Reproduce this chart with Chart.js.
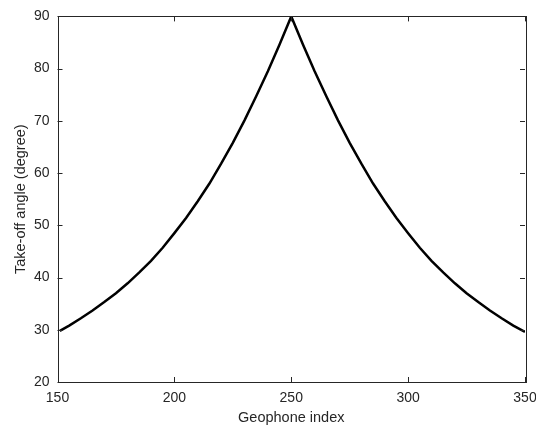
<!DOCTYPE html>
<html>
<head>
<meta charset="utf-8">
<script src="https://cdn.jsdelivr.net/npm/chart.js@4"></script>
<style>
  html, body { margin: 0; padding: 0; background: #fff; }
  #wrap { width: 536px; height: 433px; }
</style>
</head>
<body>
<div id="wrap"><canvas id="myChart" width="536" height="433"></canvas></div>
<script>
// geophone index and take-off angle
const geophones = [151, 155, 160, 165, 170, 175, 180, 185, 190, 195, 200, 205, 210, 215, 220, 225, 230, 235, 240, 245, 250,
                   255, 260, 265, 270, 275, 280, 285, 290, 295, 300, 305, 310, 315, 320, 325, 330, 335, 340, 345, 350];
const angles = [29.8, 30.8, 32.2, 33.7, 35.3, 37.0, 38.9, 41.0, 43.2, 45.7, 48.5, 51.4, 54.6, 58.0, 61.8, 65.8, 70.1, 74.7, 79.5, 84.6, 90.0,
                84.6, 79.5, 74.7, 70.1, 65.8, 61.8, 58.0, 54.6, 51.4, 48.5, 45.7, 43.2, 41.0, 38.9, 37.0, 35.3, 33.7, 32.2, 30.8, 29.6];
const xTicks = [150, 200, 250, 300, 350];
const yTicks = [20, 30, 40, 50, 60, 70, 80, 90];

const axisColor = '#262626';

// box round the plot with inward ticks on all four sides
const boxPlugin = {
  id: 'box',
  afterDraw(chart) {
    const { ctx, chartArea: a, scales } = chart;
    ctx.save();
    ctx.strokeStyle = axisColor;
    ctx.lineWidth = 1;
    ctx.strokeRect(Math.round(a.left) + 0.5, Math.round(a.top) + 0.5,
                   Math.round(a.right - a.left), Math.round(a.bottom - a.top));
    ctx.beginPath();
    xTicks.forEach(v => {
      const px = Math.round(scales.x.getPixelForValue(v)) + 0.5;
      ctx.moveTo(px, a.bottom); ctx.lineTo(px, a.bottom - 5);
      ctx.moveTo(px, a.top); ctx.lineTo(px, a.top + 5);
    });
    yTicks.forEach(v => {
      const py = Math.round(scales.y.getPixelForValue(v)) + 0.5;
      ctx.moveTo(a.left, py); ctx.lineTo(a.left + 5, py);
      ctx.moveTo(a.right, py); ctx.lineTo(a.right - 5, py);
    });
    ctx.stroke();
    ctx.restore();
  }
};

const font = { family: 'Liberation Sans, Arial, Helvetica, sans-serif', size: 14 };

new Chart(document.getElementById('myChart').getContext('2d'), {
  type: 'line',
  data: {
    datasets: [{
      data: geophones.map((g, i) => ({ x: g, y: angles[i] })),
      borderColor: '#000',
      borderWidth: 2.5,
      pointRadius: 0,
      tension: 0,
      fill: false
    }]
  },
  options: {
    responsive: false,
    animation: false,
    layout: { padding: { top: 15, right: 0, left: 0, bottom: 0 } },
    plugins: { legend: { display: false }, tooltip: { enabled: false } },
    scales: {
      x: {
        type: 'linear',
        min: 150, max: 350,
        afterBuildTicks: s => { s.ticks = xTicks.map(v => ({ value: v })); },
        afterFit: s => { s.height = 51; s.paddingRight = 11; s.paddingLeft = 0; },
        grid: { display: false, drawTicks: false },
        border: { display: false },
        ticks: { color: axisColor, font: font, padding: 8, maxRotation: 0 },
        title: { display: true, text: 'Geophone index', color: axisColor,
                 font: { family: font.family, size: 14.5 }, padding: { top: 0, bottom: 6 } }
      },
      y: {
        min: 20, max: 90,
        afterBuildTicks: s => { s.ticks = yTicks.map(v => ({ value: v })); },
        afterFit: s => { s.width = 57.5; },
        grid: { display: false, drawTicks: false },
        border: { display: false },
        ticks: { color: axisColor, font: font, padding: 8 },
        title: { display: true, text: 'Take-off angle (degree)', color: axisColor,
                 font: { family: font.family, size: 14.5 }, padding: { top: 12, bottom: 0 } }
      }
    }
  },
  plugins: [boxPlugin]
});
</script>
</body>
</html>
